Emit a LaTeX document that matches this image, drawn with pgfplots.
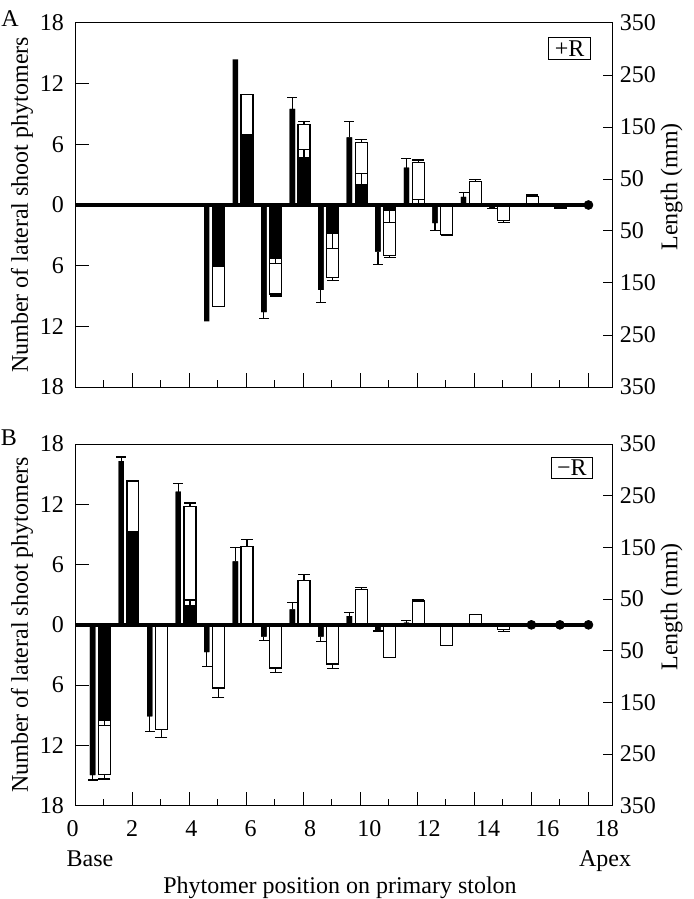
\documentclass[border=0pt]{standalone}
\usepackage{fontspec}
\setmainfont{Liberation Serif}
\usepackage{pgfplots}
\usepackage{pgfplotstable}
\pgfplotsset{compat=1.18}

% pos: phytomer; thin: number of lateral shoot phytomers (left axis), te: its SE (signed)
% tot: total length (mm), toe: SE; blk: black part of length (mm), ble: SE
\pgfplotstableread{
pos thin te tot toe blk ble
5 -11.5 0 -195 0 -118 0
6 14.4 0 212.5 0 135.5 0
7 -10.6 -0.6 -171 -4 -103.4 -8.5
8 9.5 1.1 154.8 5.3 90.8 16
9 -8.4 -1.25 -140 -5.3 -55.4 -27.6
10 6.7 1.55 119.6 6.4 38.9 21.2
11 -4.6 -1.3 -97.8 -3.1 -10.5 -23.7
12 3.7 0.9 81.7 4.9 2.9 7.8
13 -1.8 -0.7 -56.4 -2 0 0
14 0.8 0.4 45.9 2.7 0 0
15 -0.3 -0.05 -30.1 -2.9 0 0
16 0 0 17.1 2.3 0 0
17 0 0 -5.8 0 -5.8 0
}\dataA

\pgfplotstableread{
pos thin te tot toe blk ble
1 -14.95 -0.5 -289.3 -9.1 -184.5 -9.7
2 16.3 0.4 278.4 1.6 180.6 0
3 -9.1 -1.5 -202.6 -16.1 0 0
4 13.26 0.79 228.3 7.6 37.1 11.1
5 -2.72 -1.42 -122.3 -18.7 0 0
6 6.31 1.39 151.1 14 0 0
7 -1.16 -0.43 -83.6 -8.9 0 0
8 1.54 0.68 85.9 11.7 0 0
9 -1.16 -0.46 -75.8 -8.4 0 0
10 0.86 0.36 68.8 3.1 0 0
11 -0.56 -0.05 -63.6 0 0 0
12 0.23 0.23 46.3 3.3 0 0
13 0 0 -39.9 0 0 0
14 0 0 19.3 0 0 0
15 0 0 -9.7 -3.7 0 0
}\dataB

\pgfplotsset{
  panel/.style={
    scale only axis, width=268.85pt, anchor=north west,
    xmin=0, xmax=18.85, ymin=-18, ymax=18,
    axis line style={line width=0.5pt},
    xtick={0,2,...,18}, minor xtick={1,3,...,17},
    xtick pos=bottom, ytick pos=left, tick align=inside,
    major tick length=7pt, minor tick length=3.5pt,
    tick style={black, line width=0.5pt},
    ytick={-18,-12,-6,0,6,12,18},
    yticklabels={18,12,6,0,6,12,18},
    yticklabel style={xshift=-2pt},
    ylabel={Number of lateral shoot phytomers},
    every axis y label/.style={at={(rel axis cs:0,0.5)}, xshift=-26.5pt, rotate=90, anchor=center},
    clip=false,
  },
  rpanel/.style={
    scale only axis, width=268.85pt, anchor=north west,
    xmin=0, xmax=18.85, ymin=-18, ymax=18,
    axis x line=none, axis y line*=right,
    axis line style={line width=0.5pt},
    ytick={-18,-12.857,-7.714,-2.571,2.571,7.714,12.857,18},
    yticklabels={350,250,150,50,50,150,250,350},
    ytick align=inside, major tick length=5pt,
    tick style={black, line width=0.5pt},
    ylabel={Length (mm)},
    every axis y label/.style={at={(rel axis cs:1,0.55)}, xshift=29.5pt, rotate=90, anchor=center},
  },
  whitebar/.style={ybar, bar width=0.42, bar shift=0pt, fill=white, draw=black, line width=0.6pt},
  blackbar/.style={ybar, bar width=0.42, bar shift=0pt, fill=black, draw=black, line width=0.6pt},
  thinbar/.style={ybar, bar width=0.19, bar shift=0pt, fill=black, draw=none},
  errw/.style={error bars/.cd, y dir=plus, y explicit,
    error bar style={line width=0.6pt, black},
    error mark options={rotate=90, mark size=3pt, line width=0.6pt, black}},
  errt/.style={error bars/.cd, y dir=plus, y explicit,
    error bar style={line width=0.6pt, black},
    error mark options={rotate=90, mark size=2.5pt, line width=0.6pt, black}},
}

\begin{document}
\begin{tikzpicture}[font=\fontsize{12}{14}\selectfont]
\path[use as bounding box] (0pt,0pt) rectangle (346.5pt,-449.5pt);

% ---------- Panel A ----------
\begin{axis}[panel, at={(37.5pt,-11.5pt)}, height=182pt, xticklabels={}]
\addplot[whitebar] table[x expr=\thisrow{pos}+0.03, y expr=\thisrow{tot}*18/350]{\dataA};
\addplot[whitebar, restrict expr to domain={abs(\thisrow{toe})}{0.001:1000}, errw]
  table[x expr=\thisrow{pos}+0.03, y expr=\thisrow{tot}*18/350, y error expr=\thisrow{toe}*18/350]{\dataA};
\addplot[blackbar, restrict expr to domain={abs(\thisrow{blk})}{0.001:1000}] table[x expr=\thisrow{pos}+0.03, y expr=\thisrow{blk}*18/350]{\dataA};
\addplot[blackbar, restrict expr to domain={abs(\thisrow{ble})}{0.001:1000}, errw]
  table[x expr=\thisrow{pos}+0.03, y expr=\thisrow{blk}*18/350, y error expr=\thisrow{ble}*18/350]{\dataA};
\addplot[thinbar] table[x expr=\thisrow{pos}-0.38, y=thin]{\dataA};
\addplot[thinbar, restrict expr to domain={abs(\thisrow{te})}{0.001:1000}, errt]
  table[x expr=\thisrow{pos}-0.38, y=thin, y error=te]{\dataA};
\addplot[black, line width=1.7pt] coordinates {(0,0) (18,0)};
\addplot[black, only marks, mark=*, mark size=2.2pt] coordinates {(18,0)};
\node[draw=black, line width=0.5pt, inner xsep=3pt, inner ysep=1.5pt] at (rel axis cs:0.92,0.929) {+R};
\end{axis}
\begin{axis}[rpanel, at={(37.5pt,-11.5pt)}, height=182pt]
\end{axis}

% ---------- Panel B ----------
\begin{axis}[panel, at={(37.5pt,-222pt)}, height=180.85pt,
  xticklabel={\pgfmathsetmacro\sh{2*(-1.15+0.5725*\tick)}\hspace*{\sh pt}\pgfmathprintnumber{\tick}},
  xticklabel style={yshift=-4pt},
  /pgf/number format/assume math mode=true]
\addplot[whitebar] table[x expr=\thisrow{pos}+0.03, y expr=\thisrow{tot}*18/350]{\dataB};
\addplot[whitebar, restrict expr to domain={abs(\thisrow{toe})}{0.001:1000}, errw]
  table[x expr=\thisrow{pos}+0.03, y expr=\thisrow{tot}*18/350, y error expr=\thisrow{toe}*18/350]{\dataB};
\addplot[blackbar, restrict expr to domain={abs(\thisrow{blk})}{0.001:1000}] table[x expr=\thisrow{pos}+0.03, y expr=\thisrow{blk}*18/350]{\dataB};
\addplot[blackbar, restrict expr to domain={abs(\thisrow{ble})}{0.001:1000}, errw]
  table[x expr=\thisrow{pos}+0.03, y expr=\thisrow{blk}*18/350, y error expr=\thisrow{ble}*18/350]{\dataB};
\addplot[thinbar] table[x expr=\thisrow{pos}-0.38, y=thin]{\dataB};
\addplot[thinbar, restrict expr to domain={abs(\thisrow{te})}{0.001:1000}, errt]
  table[x expr=\thisrow{pos}-0.38, y=thin, y error=te]{\dataB};
\addplot[black, line width=1.7pt] coordinates {(0,0) (18,0)};
\addplot[black, only marks, mark=*, mark size=2.2pt] coordinates {(16,0) (17,0) (18,0)};
\node[draw=black, line width=0.5pt, inner xsep=3pt, inner ysep=1.5pt] at (rel axis cs:0.924,0.934) {−R};
\end{axis}
\begin{axis}[rpanel, at={(37.5pt,-222pt)}, height=180.85pt]
\end{axis}

% ---------- outer text ----------
\node[anchor=base] at (5pt,-13.35pt) {A};
\node[anchor=base] at (4.5pt,-222.5pt) {B};
\node[anchor=base] at (45pt,-433pt) {Base};
\node[anchor=base] at (302.5pt,-433pt) {Apex};
\node[anchor=base] at (170pt,-446.5pt) {Phytomer position on primary stolon};
\end{tikzpicture}
\end{document}
